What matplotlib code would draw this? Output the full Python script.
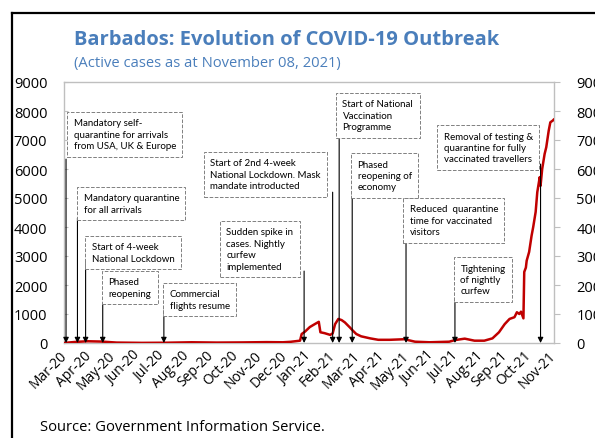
import matplotlib
matplotlib.use("Agg")
import matplotlib.pyplot as plt
from matplotlib.lines import Line2D
import pandas as pd

plt.rcParams['font.family'] = ['Open Sans', 'DejaVu Sans']

# %% data
case_dates = [
    "2020-03-17", "2020-04-01", "2020-04-15", "2020-05-01", "2020-05-20",
    "2020-06-20", "2020-07-20", "2020-08-20", "2020-09-20", "2020-10-20",
    "2020-11-20", "2020-12-10", "2020-12-19", "2020-12-31", "2021-01-02",
    "2021-01-06", "2021-01-12", "2021-01-18", "2021-01-23", "2021-01-25",
    "2021-01-30", "2021-02-06", "2021-02-09", "2021-02-12", "2021-02-16",
    "2021-02-20", "2021-02-24", "2021-03-02", "2021-03-06", "2021-03-10",
    "2021-03-16", "2021-03-27", "2021-04-06", "2021-04-20", "2021-05-08",
    "2021-05-21", "2021-06-08", "2021-07-02", "2021-07-09", "2021-07-21",
    "2021-08-02", "2021-08-14", "2021-08-24", "2021-09-01", "2021-09-08",
    "2021-09-14", "2021-09-20", "2021-09-23", "2021-09-26", "2021-09-28",
    "2021-10-01", "2021-10-02", "2021-10-04", "2021-10-05", "2021-10-08",
    "2021-10-11", "2021-10-13", "2021-10-16", "2021-10-18", "2021-10-21",
    "2021-10-22", "2021-10-24", "2021-10-27", "2021-10-29", "2021-11-01",
    "2021-11-03", "2021-11-06", "2021-11-07",
]
active_cases = [
    5, 40, 60, 50, 15,
    5, 10, 25, 15, 20,
    30, 25, 40, 80, 310,
    390, 550, 650, 730, 370,
    340, 280, 330, 650, 830,
    790, 710, 540, 420, 310,
    230, 160, 110, 110, 130,
    45, 25, 45, 100, 150,
    80, 80, 160, 370, 650,
    830, 890, 1060, 1000, 1080,
    850, 2450, 2600, 2840, 3140,
    3700, 4000, 4520, 5200, 5720,
    5420, 6000, 6520, 6750, 7320,
    7610, 7670, 7700,
]

event_dates = [
    "2020-03-19", "2020-04-02", "2020-04-12", "2020-05-03", "2020-07-17",
    "2021-01-05", "2021-02-09", "2021-02-17", "2021-03-05", "2021-05-10",
    "2021-07-09", "2021-10-22",
]
event_labels = [
    "Mandatory self-\nquarantine for arrivals\nfrom USA, UK & Europe",
    "Mandatory quarantine\nfor all arrivals",
    "Start of 4-week\nNational Lockdown",
    "Phased\nreopening",
    "Commercial\nflights resume",
    "Sudden spike in\ncases. Nightly\ncurfew\nimplemented",
    "Start of 2nd 4-week\nNational Lockdown. Mask\nmandate introducted",
    "Start of National\nVaccination\nProgramme",
    "Phased\nreopening of\neconomy",
    "Reduced  quarantine\ntime for vaccinated\nvisitors",
    "Tightening\nof nightly\ncurfew",
    "Removal of testing &\nquarantine for fully\nvaccinated travellers",
]
# level where each arrow leaves its box (cases)
arrow_tops = [6340, 4310, 2830, 1345, 1140, 2480, 5200, 7030, 5170, 3550, 1550, 6170]
# box top-left corners in figure pixels
box_px = [(67, 113), (77, 188), (85, 237), (102, 272), (163, 284), (220, 222),
          (204, 153), (336, 94), (351, 154), (403, 199), (454, 258), (437, 126)]

y_ticks = list(range(0, 10000, 1000))

# %% plot
W, H = 595, 439
fig = plt.figure(figsize=(W / 100, H / 100), dpi=100)
ax = fig.add_axes([64 / W, 1 - 344 / H, 490 / W, 261 / H])

dates = pd.to_datetime(case_dates)
ax.plot(dates, active_cases, color='#C00000', lw=1.8, zorder=3)

start = pd.Timestamp("2020-03-17")
ax.set_xlim(start - pd.Timedelta(hours=12), start + pd.Timedelta(days=600, hours=12))
ticks = [start + pd.Timedelta(days=30 * k) for k in range(21)]
ax.set_xticks(ticks)
ax.set_xticklabels([t.strftime('%b-%y') for t in ticks], rotation=45,
                   ha='right', va='center', rotation_mode='anchor', fontsize=10)
ax.tick_params(axis='x', length=0, pad=7)

ax.set_ylim(0, 9000)
ax.set_yticks(y_ticks)
ax.tick_params(axis='y', direction='in', length=3, color='#BFBFBF', pad=12, labelsize=10.5)
for s in ax.spines.values():
    s.set_color('#BFBFBF')
    s.set_linewidth(1)

# right axis repeats the scale (cut by the figure edge, as in the original)
ax2 = ax.twinx()
ax2.set_ylim(0, 9000)
ax2.set_yticks(y_ticks)
ax2.tick_params(axis='y', direction='out', length=4, color='#BFBFBF', pad=12, labelsize=10.5)
for s in ax2.spines.values():
    s.set_visible(False)

# event arrows
for d, top in zip(event_dates, arrow_tops):
    d = pd.Timestamp(d)
    ax.annotate('', xy=(d, 0), xytext=(d, top),
                arrowprops=dict(arrowstyle='-|>', color='black', lw=0.8,
                                mutation_scale=8, shrinkA=0, shrinkB=0), zorder=4)

# event boxes
pad_px = 6.5
for (bx, by), lab in zip(box_px, event_labels):
    fig.text((bx + pad_px) / W, 1 - (by + pad_px) / H, lab, ha='left', va='top',
             fontsize=7, linespacing=1.35, zorder=5, family=['Lato', 'DejaVu Sans'],
             bbox=dict(boxstyle='square,pad=0.65', fc='white', ec='#808080',
                       lw=0.7, ls='--'))

# titles and source
blue = '#4A7EBB'
fig.text(74 / W, 1 - 40 / H, 'Barbados: Evolution of COVID-19 Outbreak',
         ha='left', va='center', fontsize=14.5, fontweight='bold', color=blue)
fig.text(74 / W, 1 - 64 / H, '(Active cases as at November 08, 2021)',
         ha='left', va='center', fontsize=10.6, color=blue)
fig.text(40 / W, 1 - 428 / H, 'Source: Government Information Service.',
         ha='left', va='center', fontsize=10.6)

# outer frame (left and top)
fig.add_artist(Line2D([11.5 / W, 11.5 / W], [0, 1 - 13.5 / H], color='black', lw=1.6))
fig.add_artist(Line2D([11.5 / W, 1], [1 - 13.5 / H, 1 - 13.5 / H], color='black', lw=1.6))

fig.savefig('out.png', dpi=100)
